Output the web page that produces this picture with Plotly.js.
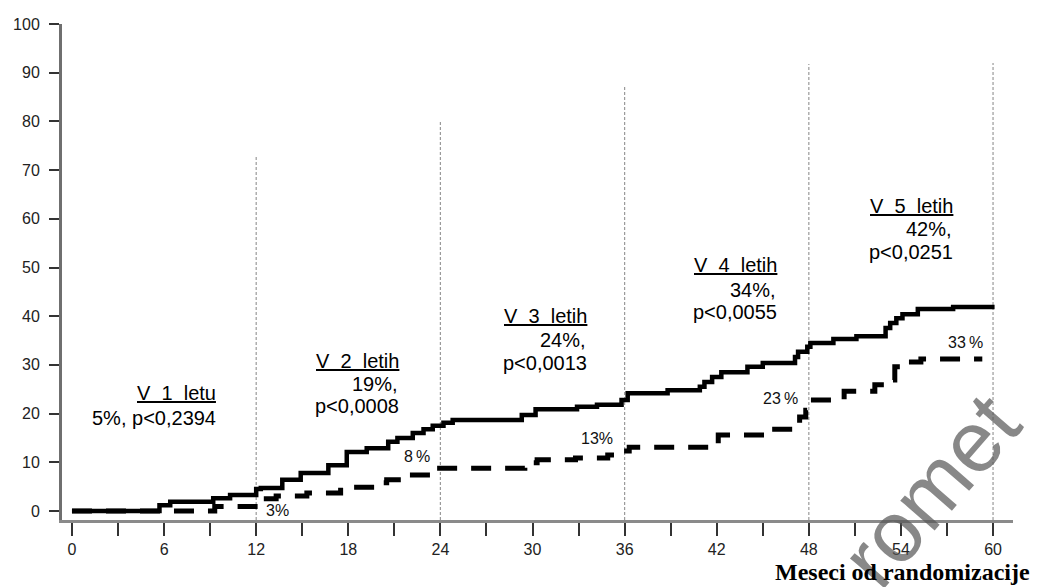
<!DOCTYPE html>
<html>
<head>
<meta charset="utf-8">
<script src="https://cdn.plot.ly/plotly-3.0.1.min.js"></script>
<style>html,body{margin:0;padding:0;background:#fff;}</style>
</head>
<body>
<div id="chart" style="width:1037px;height:587px;"></div>
<script>
// ---- data (months since randomisation, cumulative %) ----
var solidX = [0, 5.7, 6.4, 9.2, 10.3, 12, 12.3, 13.7, 14.9, 16.7, 17.9, 19.2, 20.6, 21.2, 22.2, 22.9, 23.5, 24.2, 24.8, 29.3, 30.2, 32.9, 34.2, 35.8, 36.2, 38.8, 40.9, 41.2, 41.7, 42.3, 44.0, 45.0, 47.1, 47.3, 47.9, 48.1, 49.6, 51.1, 53.0, 53.3, 53.7, 54.1, 55.1, 57.4, 60.1];
var solidY = [0, 1.2, 1.9, 2.6, 3.3, 4.5, 4.7, 6.4, 7.8, 9.4, 12.1, 12.9, 14.2, 15.0, 16.0, 16.8, 17.5, 18.1, 18.7, 19.7, 20.9, 21.4, 21.8, 22.8, 24.2, 24.8, 25.5, 26.5, 27.5, 28.5, 29.6, 30.4, 31.6, 32.7, 33.7, 34.5, 35.3, 35.9, 37.6, 38.6, 39.6, 40.4, 41.5, 41.9, 41.9];
var dashX = [0, 9.3, 12.2, 13.3, 15.3, 17.5, 19.9, 20.5, 21.5, 23.6, 29.5, 30.3, 32.8, 34.9, 35.8, 36.3, 42.1, 45.5, 47.4, 47.8, 48.1, 50.3, 52.3, 52.9, 53.6, 54.1, 55.3, 59.3];
var dashY = [0, 0.9, 2.5, 3.1, 3.7, 4.9, 5.8, 6.4, 7.4, 8.8, 9.9, 10.5, 10.9, 11.5, 12.3, 13.1, 15.6, 16.8, 19.3, 20.7, 22.8, 24.6, 25.9, 26.9, 29.6, 30.6, 31.2, 31.2];

// yearly reference lines (month, top value)
var yearX = [12, 24, 36, 48, 60];
var yearTop = [73, 80.3, 87.3, 91.8, 92];

// tick labels
var xTickVals = [0, 3, 6, 9, 12, 15, 18, 21, 24, 27, 30, 33, 36, 39, 42, 45, 48, 51, 54, 57, 60];
var xTickText = ['0', '', '6', '', '12', '', '18', '', '24', '', '30', '', '36', '', '42', '', '48', '', '54', '', '60'];
var yTickVals = [0, 10, 20, 30, 40, 50, 60, 70, 80, 90, 100];

// annotation texts
var blockTitles = ['V\u00a0 1\u00a0 letu', 'V\u00a0 2\u00a0 letih', 'V\u00a0 3\u00a0 letih', 'V\u00a0 4\u00a0 letih', 'V\u00a0 5\u00a0 letih'];
var blockPct = ['', '19%,', '24%,', '34%,', '42%,'];
var blockP = ['5%, p<0,2394', 'p<0,0008', 'p<0,0013', 'p<0,0055', 'p<0,0251'];
var ctrlLabels = ['3%', '8\u2009%', '13%', '23\u2009%', '33\u2009%'];
var xTitle = 'Meseci od randomizacije';
var watermark = 'romet';

// ---- layout helpers (pixel -> paper) ----
var M = {l: 62, r: 24, t: 24, b: 67};
var W = 1037, H = 587;
var pw = W - M.l - M.r, ph = H - M.t - M.b;
function px(x) { return (x - M.l) / pw; }
function py(y) { return (H - M.b - y) / ph; }

var txtFont = {family: 'Liberation Sans, Arial, sans-serif', size: 20, color: '#000'};
var annotations = [];
// watermark first so it sits beneath the other texts' layer order is irrelevant; it is semi-transparent
annotations.push({xref: 'paper', yref: 'paper', x: px(930), y: py(490), xanchor: 'center', yanchor: 'middle',
  showarrow: false, text: watermark, textangle: -49,
  font: {family: 'Liberation Sans, Arial, sans-serif', size: 86, color: 'rgba(85,85,85,0.7)'}});
// block positions: right edge and centre y of each of the 3 lines
var blockRight = [218, 401, 589, 779, 955];
var blockRows = [[393, null, 418], [361, 384, 406], [316, 340, 363], [265, 290, 312], [206, 229, 252]];
for (var i = 0; i < blockTitles.length; i++) {
  annotations.push({xref: 'paper', yref: 'paper', x: px(blockRight[i]), y: py(blockRows[i][0]),
    xanchor: 'right', yanchor: 'middle', showarrow: false, text: '<u>' + blockTitles[i] + '</u>', font: txtFont});
  if (blockPct[i]) annotations.push({xref: 'paper', yref: 'paper', x: px(blockRight[i] - 1), y: py(blockRows[i][1]),
    xanchor: 'right', yanchor: 'middle', showarrow: false, text: blockPct[i], font: txtFont});
  annotations.push({xref: 'paper', yref: 'paper', x: px(blockRight[i]), y: py(blockRows[i][2]),
    xanchor: 'right', yanchor: 'middle', showarrow: false, text: blockP[i], font: txtFont});
}
var ctrlPos = [[277, 510], [417, 456], [597, 438], [780, 398], [965, 342]];
for (var j = 0; j < ctrlLabels.length; j++) {
  annotations.push({xref: 'paper', yref: 'paper', x: px(ctrlPos[j][0]), y: py(ctrlPos[j][1]),
    xanchor: 'center', yanchor: 'middle', showarrow: false, text: ctrlLabels[j],
    font: {family: 'Liberation Sans, Arial, sans-serif', size: 16, color: '#111'}});
}
annotations.push({xref: 'paper', yref: 'paper', x: px(1032), y: py(572), xanchor: 'right', yanchor: 'middle',
  showarrow: false, text: '<b>' + xTitle + '</b>',
  font: {family: 'Liberation Serif, Times New Roman, serif', size: 24, color: '#000'}});

var shapes = [];
for (var k = 0; k < yearX.length; k++) {
  shapes.push({type: 'line', xref: 'x', yref: 'y', x0: yearX[k], x1: yearX[k], y0: -1.85, y1: yearTop[k],
    layer: 'below', line: {color: '#9a9a9a', width: 1.2, dash: '3px,2px'}});
}

var traces = [
  {x: dashX, y: dashY, type: 'scatter', mode: 'lines', line: {shape: 'hv', color: '#000', width: 5, dash: '20px,14px'},
   hoverinfo: 'skip', name: 'kontrola'},
  {x: solidX, y: solidY, type: 'scatter', mode: 'lines', line: {shape: 'hv', color: '#000', width: 4.5},
   hoverinfo: 'skip', name: 'zdravljenje'}
];

var layout = {
  width: W, height: H, margin: M,
  paper_bgcolor: '#fff', plot_bgcolor: '#fff', showlegend: false,
  xaxis: {range: [-0.65, 61.3], showgrid: false, zeroline: false, showline: true, linecolor: '#8a8a8a', linewidth: 3,
    ticks: 'outside', ticklen: 13, tickwidth: 2, tickcolor: '#333', tickmode: 'array', tickvals: xTickVals, ticktext: xTickText,
    tickfont: {family: 'Liberation Sans, Arial, sans-serif', size: 16, color: '#222'}, fixedrange: true},
  yaxis: {range: [-1.85, 100], showgrid: false, zeroline: false, showline: true, linecolor: '#6f6f6f', linewidth: 3,
    ticks: 'outside', ticklen: 10, tickwidth: 2, tickcolor: '#333', tickmode: 'array', tickvals: yTickVals,
    ticklabelstandoff: 6,
    tickfont: {family: 'Liberation Sans, Arial, sans-serif', size: 16, color: '#222'}, fixedrange: true},
  annotations: annotations,
  shapes: shapes
};

Plotly.newPlot('chart', traces, layout, {staticPlot: true, displayModeBar: false});
</script>
</body>
</html>
